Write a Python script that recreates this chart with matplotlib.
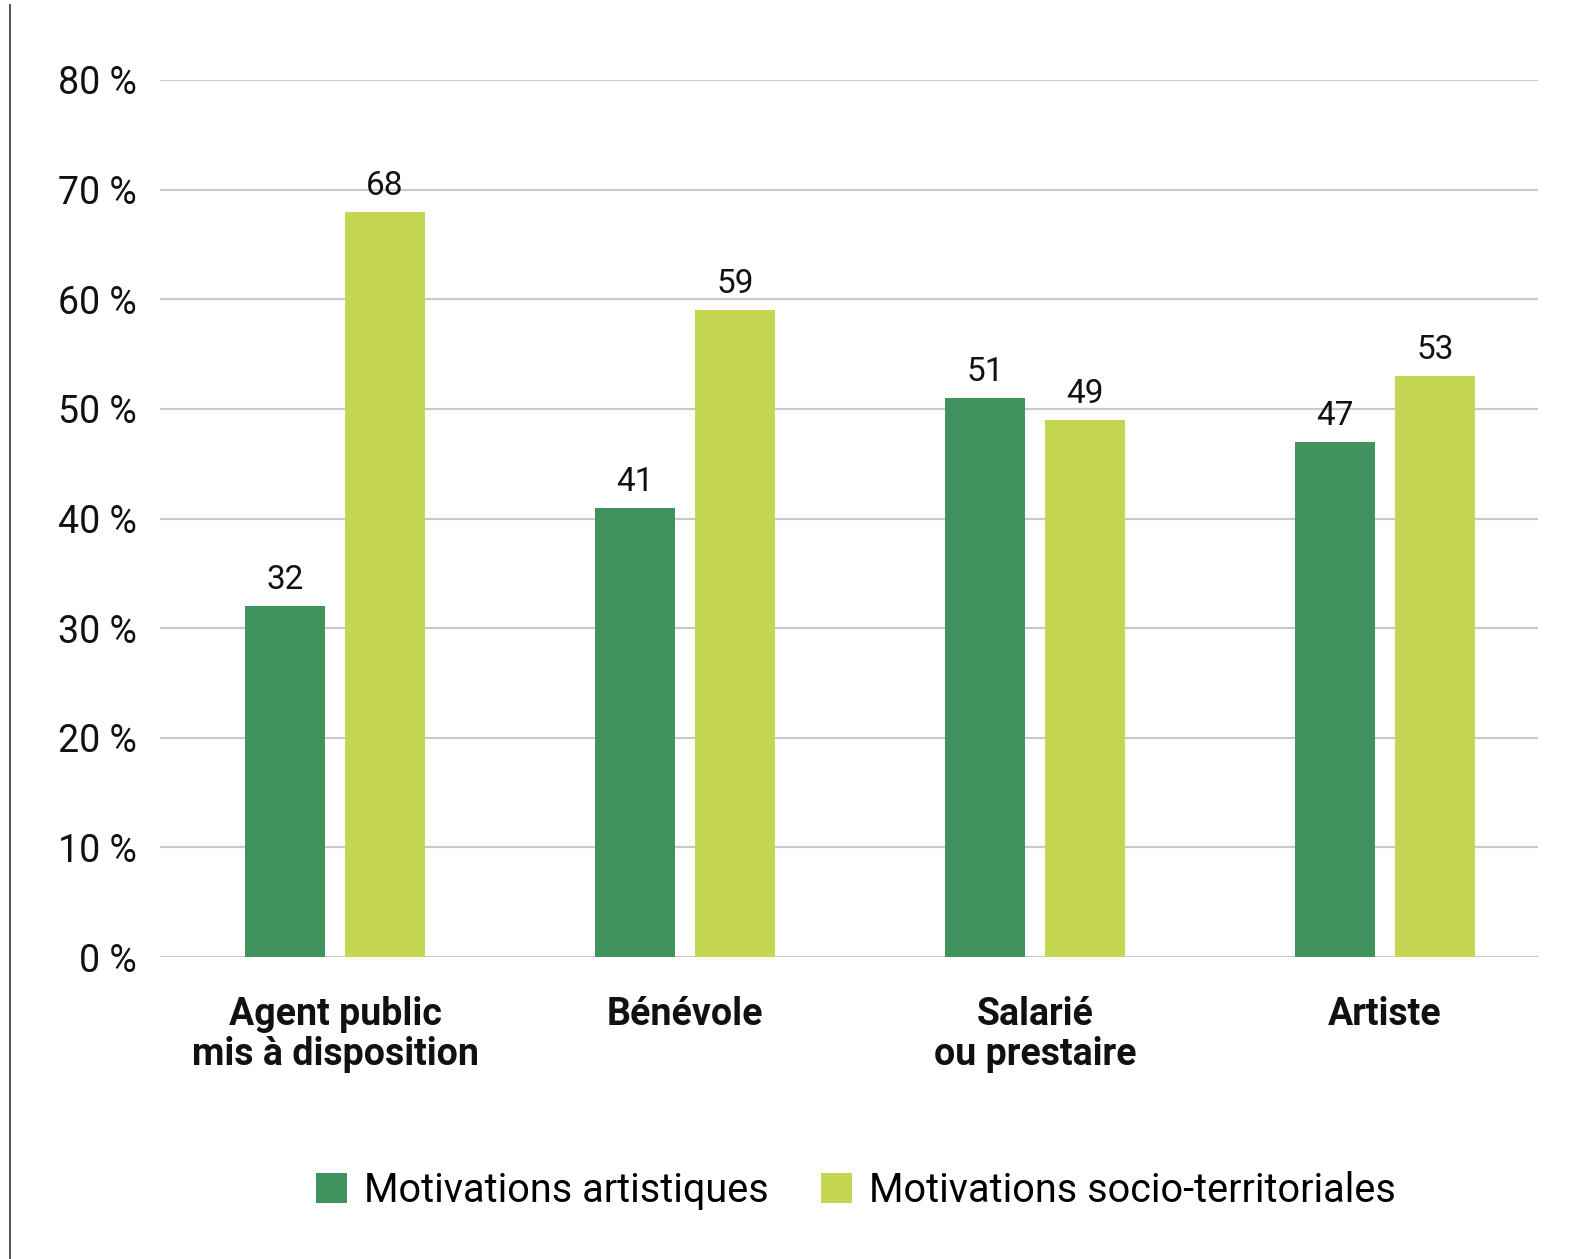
import matplotlib.pyplot as plt
from matplotlib.lines import Line2D
from matplotlib.patches import Patch


categories = ["Agent public\nmis à disposition", "Bénévole", "Salarié\nou prestaire", "Artiste"]
artistiques = [32, 41, 51, 47]
socio_territoriales = [68, 59, 49, 53]
series_names = ["Motivations artistiques", "Motivations socio-territoriales"]
y_ticks = [0, 10, 20, 30, 40, 50, 60, 70, 80]
y_tick_labels = [f"{v} %" for v in y_ticks]

DARK_GREEN = "#40935e"
LIGHT_GREEN = "#c5d652"
GRID_GRAY = "#c9c9c9"

plt.rcParams["font.family"] = ["Roboto", "DejaVu Sans"]

fig = plt.figure(figsize=(15.76, 12.59), dpi=100)
ax = fig.add_axes([160 / 1576, 1 - 957 / 1259, 1378 / 1576, 877 / 1259])

width = 0.228
offset = 0.143
x = list(range(len(categories)))

ax.bar([i - offset for i in x], artistiques, width, color=DARK_GREEN, zorder=3)
ax.bar([i + offset for i in x], socio_territoriales, width, color=LIGHT_GREEN, zorder=3)

for i in x:
    ax.text(i - offset, artistiques[i] + 0.9, str(artistiques[i]),
            ha="center", va="bottom", fontsize=24, color="#111111")
    ax.text(i + offset, socio_territoriales[i] + 0.9, str(socio_territoriales[i]),
            ha="center", va="bottom", fontsize=24, color="#111111")

ax.set_xlim(-0.5, 3.437)
ax.set_ylim(0, 80)
ax.set_yticks(y_ticks)
ax.set_yticklabels(y_tick_labels, fontsize=27, color="#111111")
ax.set_xticks(x)
ax.set_xticklabels(categories, fontsize=27, fontweight="bold", color="#111111",
                   linespacing=1.1)
ax.tick_params(axis="both", length=0)
ax.tick_params(axis="y", pad=17)
ax.tick_params(axis="x", pad=28)
ax.grid(axis="y", color=GRID_GRAY, linewidth=1.6, zorder=0)
ax.set_axisbelow(True)
for spine in ax.spines.values():
    spine.set_visible(False)

handles = [Patch(facecolor=DARK_GREEN), Patch(facecolor=LIGHT_GREEN)]
fig.legend(handles, series_names, loc="center", ncol=2, frameon=False,
           bbox_to_anchor=(856 / 1576, 1 - 1190 / 1259), fontsize=28.5,
           handlelength=0.78, handleheight=0.78, handletextpad=0.45,
           columnspacing=1.3)

# thin frame line at the left edge of the original image
fig.add_artist(Line2D([10 / 1576, 10 / 1576], [0, 1 - 5 / 1259],
                      color="#333333", linewidth=1.2))

fig.savefig("out.png", dpi=100, facecolor="white")
